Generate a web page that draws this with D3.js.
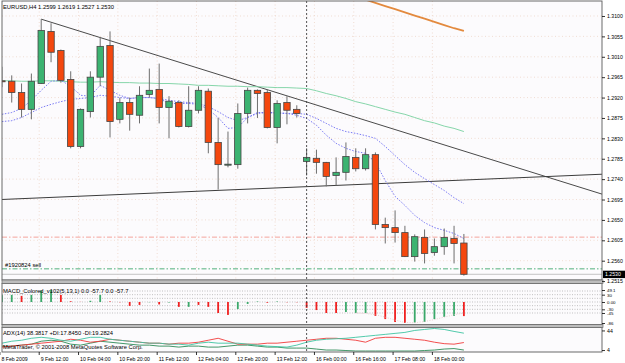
<!DOCTYPE html>
<html>
<head>
<meta charset="utf-8">
<script src="https://cdn.jsdelivr.net/npm/d3@7"></script>
<style>
  body { margin: 0; background: #fff; }
  svg text { font-family: "Liberation Sans", Arial, sans-serif; }
  .axisR text, .axisB text { font-size: 5.2px; fill: #000; }
  .axisR line, .axisB line { stroke: #000; stroke-width: 0.8; }
  .axisM text { font-size: 4.4px; fill: #000; }
  .axisM line { stroke: #000; stroke-width: 0.8; }
  .lbl { font-size: 5.8px; fill: #000; }
</style>
</head>
<body>
<div id="chart"></div>
<script>
// bar open times (H4), first one is partly cut at the left edge
var barTimes = ["8 Feb 20:00","9 Feb 00:00","9 Feb 04:00","9 Feb 08:00","9 Feb 12:00","9 Feb 16:00","9 Feb 20:00",
  "10 Feb 00:00","10 Feb 04:00","10 Feb 08:00","10 Feb 12:00","10 Feb 16:00","10 Feb 20:00",
  "11 Feb 00:00","11 Feb 04:00","11 Feb 08:00","11 Feb 12:00","11 Feb 16:00","11 Feb 20:00",
  "12 Feb 00:00","12 Feb 04:00","12 Feb 08:00","12 Feb 12:00","12 Feb 16:00","12 Feb 20:00",
  "13 Feb 00:00","13 Feb 04:00","13 Feb 08:00","13 Feb 12:00","13 Feb 16:00","13 Feb 20:00",
  "15 Feb 20:00","16 Feb 00:00","16 Feb 04:00","16 Feb 08:00","16 Feb 12:00","16 Feb 16:00","16 Feb 20:00",
  "17 Feb 00:00","17 Feb 04:00","17 Feb 08:00","17 Feb 12:00","17 Feb 16:00","17 Feb 20:00",
  "18 Feb 00:00","18 Feb 04:00","18 Feb 08:00","18 Feb 12:00"];

var openP  = [1.2957,1.2956,1.2931,1.2894,1.2951,1.3066,1.3024,1.2960,1.2812,1.2889,1.2965,1.3035,1.2872,1.2909,1.2881,1.2927,
  1.2938,1.2898,1.2909,1.2856,1.2892,1.2934,1.2821,1.2771,1.2772,1.2885,1.2936,1.2931,1.2854,1.2909,1.2894,1.2779,
  1.2786,1.2777,1.2748,1.2755,1.2788,1.2763,1.2794,1.2640,1.2633,1.2622,1.2569,1.2611,1.2578,1.2591,1.2609,1.2599];
var highP  = [1.2988,1.2969,1.2951,1.2973,1.3093,1.3084,1.3026,1.2978,1.2896,1.2978,1.3053,1.3066,1.2920,1.2920,1.2945,1.2984,
  1.2995,1.2923,1.2914,1.2945,1.2945,1.2940,1.2875,1.2845,1.2907,1.2942,1.2938,1.2938,1.2914,1.2923,1.2903,1.2808,
  1.2805,1.2778,1.2788,1.2821,1.2808,1.2808,1.2799,1.2655,1.2671,1.2637,1.2618,1.2629,1.2609,1.2631,1.2637,1.2619];
var lowP   = [1.2943,1.2909,1.2876,1.2872,1.2950,1.2998,1.2953,1.2808,1.2808,1.2876,1.2945,1.2832,1.2863,1.2847,1.2863,1.2920,
  1.2863,1.2830,1.2854,1.2854,1.2885,1.2797,1.2717,1.2766,1.2763,1.2863,1.2875,1.2852,1.2819,1.2861,1.2876,1.2748,
  1.2752,1.2724,1.2726,1.2737,1.2757,1.2759,1.2629,1.2598,1.2600,1.2568,1.2558,1.2554,1.2571,1.2573,1.2554,1.2527];
var closeP = [1.2956,1.2931,1.2894,1.2956,1.3068,1.3020,1.2958,1.2812,1.2894,1.2965,1.3033,1.2867,1.2909,1.2883,1.2925,1.2936,
  1.2898,1.2912,1.2856,1.2892,1.2936,1.2821,1.2772,1.2773,1.2885,1.2936,1.2929,1.2854,1.2907,1.2892,1.2885,1.2788,
  1.2777,1.2746,1.2755,1.2790,1.2763,1.2794,1.2640,1.2633,1.2622,1.2569,1.2613,1.2576,1.2591,1.2611,1.2598,1.2530];

var maLong = [1.2957,1.2957,1.2956,1.2956,1.2957,1.2957,1.2956,1.2955,1.2954,1.2954,1.2955,1.2954,1.2953,1.2953,1.2952,1.2952,
  1.2951,1.2951,1.2950,1.2949,1.2947,1.2947,1.2946,1.2945,1.2945,1.2944,1.2944,1.2943,1.2942,1.2942,1.2941,1.2940,
  1.2935,1.2929,1.2924,1.2918,1.2911,1.2906,1.2900,1.2894,1.2888,1.2883,1.2876,1.2869,1.2864,1.2857,1.2852,1.2845];
var maFast = [1.2883,1.2887,1.2896,1.2914,1.2936,1.2956,1.2958,1.2945,1.2925,1.2923,1.2947,1.2936,1.2925,1.2918,1.2920,1.2920,
  1.2918,1.2907,1.2907,1.2907,1.2905,1.2894,1.2876,1.2852,1.2854,1.2876,1.2887,1.2887,1.2885,1.2885,1.2881,1.2874,
  1.2859,1.2837,1.2819,1.2808,1.2801,1.2797,1.2777,1.2737,1.2702,1.2682,1.2660,1.2644,1.2633,1.2627,1.2620,1.2609];
var maSlow = [1.2867,1.2869,1.2876,1.2887,1.2898,1.2905,1.2911,1.2916,1.2918,1.2920,1.2925,1.2923,1.2920,1.2918,1.2920,1.2920,
  1.2918,1.2914,1.2911,1.2909,1.2907,1.2900,1.2889,1.2876,1.2869,1.2876,1.2885,1.2887,1.2887,1.2885,1.2885,1.2883,
  1.2874,1.2863,1.2852,1.2845,1.2841,1.2836,1.2830,1.2812,1.2792,1.2772,1.2755,1.2741,1.2728,1.2715,1.2699,1.2686];

// orange line at the top right, from 16 Feb 16:00 to the last bar
var orangeStart = "16 Feb 16:00";
var orangeVals = [1.3142,1.3136,1.3129,1.3122,1.3115,1.3108,1.3101,1.3094,1.3087,1.3080,1.3073,1.3067];

// trend lines: [time, price] anchors
var trendDown = [["9 Feb 12:00", 1.3093], ["18 Feb 12:00", 1.2802]];
var trendUp = [["9 Feb 00:00", 1.2696], ["18 Feb 12:00", 1.2738]];
var stopPrice = 1.2612, orderPrice = 1.2542, bidPrice = 1.2530;
var weekSep = "15 Feb 20:00";

var priceTicks = [1.3100,1.3055,1.3010,1.2965,1.2920,1.2875,1.2830,1.2785,1.2740,1.2695,1.2650,1.2605,1.2560,1.2515];
var timeTicks = ["8 Feb 20:00","9 Feb 12:00","10 Feb 04:00","10 Feb 20:00","11 Feb 12:00","12 Feb 04:00",
  "12 Feb 20:00","13 Feb 12:00","16 Feb 00:00","16 Feb 16:00","17 Feb 08:00","18 Feb 00:00"];
var timeLabels = ["8 Feb 2009","9 Feb 12:00","10 Feb 04:00","10 Feb 20:00","11 Feb 12:00","12 Feb 04:00",
  "12 Feb 20:00","13 Feb 12:00","16 Feb 00:00","16 Feb 16:00","17 Feb 08:00","18 Feb 00:00"];

var macdHist = [28,29,25,29,47,49.1,29,3,0.5,5,29,2,-1,-16,-12,-1,-10,-2,-20,-20,-12,-20,-45,-53,-29,-8,2,-3,2,-1,-1,-24,
  -33,-45,-45,-41,-45,-45,-57,-70,-82,-86,-84,-82,-70,-61,-57,-57.7];
var macdRising = [1,1,0,1,1,1,0,0,0,1,1,0,0,0,0,1,0,1,0,1,0,0,0,0,1,1,1,0,1,0,0,0,0,0,0,1,1,1,0,0,0,0,1,1,1,1,1,0];
var macdSigStart = "16 Feb 16:00";
var macdSigVals = [-45,-47,-52,-62,-74,-84,-85,-80,-72,-62,-52,-45];
var macdLevels = [45,30,15,0,-15,-30,-45];
var macdTicks = [49.1,30,0,-30,-45,-86];
var macdTickText = ["49.1","30","0.00","-30","-45","-86"];

var adxLine = [18,22,24,28,30,28,24,22,26,30,30,26,24,22,20,18,18,16,16,14,18,20,18,18,18,16,14,12,11,10,14,20,
  24,26,27,28,30,32,34,36,38,40,44,46,48,46,42,38.4];
var minusDi = [10,12,14,16,18,20,22,26,24,20,22,26,24,22,20,18,18,16,18,18,20,24,28,22,16,16,16,18,18,20,22,24,
  26,28,28,26,24,20,28,30,30,28,26,24,20,17,16,19.3];
var plusDi = [12,12,14,16,22,24,22,16,14,18,22,20,18,16,14,14,12,12,10,12,12,10,10,12,14,14,12,10,10,8,8,8,
  6,4,4,3,2,2,2,2,2,2,2,3,4,6,7,4];
var adxTicks = [44,4];

drawTerminalChart("chart");

function drawTerminalChart(divIdStr){
  var plotL = 2, plotR = 602;
  var mainT = 1, mainB = 280;
  var macdT = 283.5, macdB = 324.5;
  var adxT = 327.5, adxB = 352;

  var x = d3.scaleLinear().domain([0, 61]).range([1.9, 601.5]);
  var y = d3.scaleLinear().domain([1.25174, 1.31331]).range([mainB, mainT]);
  var yM = d3.scaleLinear().domain([-86, 49.1]).range([323, 290]);
  var yA = d3.scaleLinear().domain([0, 50]).range([adxB, adxT]);
  var pos = function(t){ return barTimes.indexOf(t); };

  var svg = d3.select("#" + divIdStr).append("svg")
    .attr("width", 625).attr("height", 363);
  svg.append("rect").attr("width", 625).attr("height", 363).attr("fill", "#fff");

  var defs = svg.append("defs");
  [["clipMain", mainT, mainB], ["clipMacd", macdT, macdB], ["clipAdx", adxT, adxB]].forEach(function(c){
    defs.append("clipPath").attr("id", c[0]).append("rect")
      .attr("x", plotL).attr("y", c[1]).attr("width", plotR - plotL).attr("height", c[2] - c[1]);
  });

  // panel backgrounds
  [[mainT, mainB], [macdT, macdB], [adxT, adxB]].forEach(function(p){
    svg.append("rect").attr("x", plotL).attr("y", p[0]).attr("width", plotR - plotL).attr("height", p[1] - p[0])
      .attr("fill", "#fcfbfd");
  });

  // ---- main panel ----
  var main = svg.append("g").attr("clip-path", "url(#clipMain)");

  main.append("g").selectAll("line").data(priceTicks).enter().append("line")
    .attr("x1", plotL).attr("x2", plotR)
    .attr("y1", function(d){ return y(d); }).attr("y2", function(d){ return y(d); })
    .attr("stroke", "#eed6c8").attr("stroke-width", 0.8).attr("stroke-dasharray", "1,2.5");
  main.append("g").selectAll("line").data(timeTicks).enter().append("line")
    .attr("x1", function(d){ return x(pos(d)) - 2; }).attr("x2", function(d){ return x(pos(d)) - 2; })
    .attr("y1", mainT).attr("y2", mainB)
    .attr("stroke", "#eed6c8").attr("stroke-width", 0.8).attr("stroke-dasharray", "1,2.5");

  // order lines
  main.append("line").attr("x1", plotL).attr("x2", plotR).attr("y1", y(stopPrice)).attr("y2", y(stopPrice))
    .attr("stroke", "#f4a49c").attr("stroke-width", 1).attr("stroke-dasharray", "5,2,1.5,2");
  main.append("line").attr("x1", plotL).attr("x2", plotR).attr("y1", y(orderPrice)).attr("y2", y(orderPrice))
    .attr("stroke", "#52b07c").attr("stroke-width", 1).attr("stroke-dasharray", "5,2,1.5,2");
  main.append("line").attr("x1", plotL).attr("x2", plotR).attr("y1", y(bidPrice)).attr("y2", y(bidPrice))
    .attr("stroke", "#c4c4c4").attr("stroke-width", 1);

  // trend lines
  var dx = x(pos(trendDown[1][0])) - x(pos(trendDown[0][0]));
  var slopeD = (y(trendDown[1][1]) - y(trendDown[0][1])) / dx;
  main.append("line")
    .attr("x1", x(pos(trendDown[0][0]))).attr("y1", y(trendDown[0][1]))
    .attr("x2", plotR).attr("y2", y(trendDown[0][1]) + slopeD * (plotR - x(pos(trendDown[0][0]))))
    .attr("stroke", "#4a4a4a").attr("stroke-width", 1);
  var ux0 = x(pos(trendUp[0][0])), uy0 = y(trendUp[0][1]);
  var slopeU = (y(trendUp[1][1]) - uy0) / (x(pos(trendUp[1][0])) - ux0);
  main.append("line")
    .attr("x1", plotL).attr("y1", uy0 + slopeU * (plotL - ux0))
    .attr("x2", plotR).attr("y2", uy0 + slopeU * (plotR - ux0))
    .attr("stroke", "#3c3c3c").attr("stroke-width", 1);

  var lineOf = function(arr, offset, scale){
    return d3.line().defined(function(d){ return d != null; })
      .x(function(d, i){ return x(i + offset); })
      .y(function(d){ return scale(d); })(arr);
  };

  main.append("path").attr("d", lineOf(maLong, 0, y)).attr("fill", "none")
    .attr("stroke", "#86d6aa").attr("stroke-width", 1);
  main.append("path").attr("d", lineOf(maSlow, 0, y)).attr("fill", "none")
    .attr("stroke", "#6c6cf2").attr("stroke-width", 0.9).attr("stroke-dasharray", "1.5,1.5");
  main.append("path").attr("d", lineOf(maFast, 0, y)).attr("fill", "none")
    .attr("stroke", "#6c6cf2").attr("stroke-width", 0.9).attr("stroke-dasharray", "1.5,1.5");
  main.append("path").attr("d", lineOf(orangeVals, pos(orangeStart), y)).attr("fill", "none")
    .attr("stroke", "#e38a3e").attr("stroke-width", 1.8);

  // candles
  var candles = main.append("g").selectAll("g").data(barTimes).enter().append("g");
  candles.append("line")
    .attr("x1", function(d, i){ return x(i); }).attr("x2", function(d, i){ return x(i); })
    .attr("y1", function(d, i){ return y(highP[i]); }).attr("y2", function(d, i){ return y(lowP[i]); })
    .attr("stroke", "#6e6e6e").attr("stroke-width", 1);
  candles.append("rect")
    .attr("x", function(d, i){ return x(i) - 3.2; })
    .attr("width", 6.4)
    .attr("y", function(d, i){ return y(Math.max(openP[i], closeP[i])); })
    .attr("height", function(d, i){ return Math.max(1, Math.abs(y(openP[i]) - y(closeP[i]))); })
    .attr("fill", function(d, i){ return closeP[i] >= openP[i] ? "#3cb371" : "#f4470e"; })
    .attr("stroke", "#454545").attr("stroke-width", 0.8);

  svg.append("text").attr("class", "lbl").attr("x", 3).attr("y", 8.5)
    .text("EURUSD,H4  1.2599 1.2619 1.2527 1.2530");
  svg.append("text").attr("class", "lbl").attr("x", 5).attr("y", 266.5).attr("fill", "#222")
    .text("#1920824 sell");

  // ---- MACD panel ----
  var macd = svg.append("g").attr("clip-path", "url(#clipMacd)");
  macd.append("g").selectAll("line").data(macdLevels).enter().append("line")
    .attr("x1", plotL).attr("x2", plotR)
    .attr("y1", function(d){ return yM(d); }).attr("y2", function(d){ return yM(d); })
    .attr("stroke", "#a8a8a8").attr("stroke-width", 0.7).attr("stroke-dasharray", "1,1.5");
  svg.append("text").attr("class", "lbl").attr("x", 3).attr("y", 293)
    .text("MACD_Colored_v102(5,13,1) 0.0 -57.7 0.0 -57.7");
  macd.append("g").selectAll("rect").data(macdHist).enter().append("rect")
    .attr("x", function(d, i){ return x(i) - 0.9; })
    .attr("width", 1.8)
    .attr("y", function(d){ return Math.min(yM(0), yM(d)); })
    .attr("height", function(d){ return Math.abs(yM(d) - yM(0)); })
    .attr("fill", function(d, i){ return macdRising[i] ? "#3aa86a" : "#f02020"; });
  macd.append("path").attr("d", lineOf(macdSigVals, pos(macdSigStart), yM)).attr("fill", "none")
    .attr("stroke", "#e6c4c4").attr("stroke-width", 0.8).attr("stroke-dasharray", "1,1.5");

  // ---- ADX panel ----
  var adx = svg.append("g").attr("clip-path", "url(#clipAdx)");
  adx.append("path").attr("d", lineOf(plusDi, 0, yA)).attr("fill", "none")
    .attr("stroke", "#2e8b57").attr("stroke-width", 0.9);
  adx.append("path").attr("d", lineOf(minusDi, 0, yA)).attr("fill", "none")
    .attr("stroke", "#f03a3a").attr("stroke-width", 0.9);
  adx.append("path").attr("d", lineOf(adxLine, 0, yA)).attr("fill", "none")
    .attr("stroke", "#3ec4a2").attr("stroke-width", 0.9);
  svg.append("text").attr("class", "lbl").attr("x", 3).attr("y", 334.5)
    .text("ADX(14) 38.3817 +DI:17.8450 -DI:19.2824");
  svg.append("text").attr("class", "lbl").attr("x", 3).attr("y", 349)
    .text("MetaTrader, \u00a9 2001-2008 MetaQuotes Software Corp.");

  // week separator through all panels
  svg.append("line").attr("x1", x(pos(weekSep))).attr("x2", x(pos(weekSep)))
    .attr("y1", mainT).attr("y2", adxB)
    .attr("stroke", "#404040").attr("stroke-width", 0.9).attr("stroke-dasharray", "2,2");

  // frames and separators
  [[mainT, mainB], [macdT, macdB], [adxT, adxB]].forEach(function(p){
    svg.append("rect").attr("x", plotL).attr("y", p[0]).attr("width", plotR - plotL).attr("height", p[1] - p[0])
      .attr("fill", "none").attr("stroke", "#5a5a5a").attr("stroke-width", 0.9);
  });
  [[mainB, macdT], [macdB, adxT]].forEach(function(p){
    svg.append("rect").attr("x", plotL).attr("y", p[0]).attr("width", plotR - plotL + 1).attr("height", p[1] - p[0])
      .attr("fill", "#bdbdbd").attr("stroke", "#6a6a6a").attr("stroke-width", 0.7);
  });

  // axes
  var pAxis = svg.append("g").attr("class", "axisR").attr("transform", "translate(" + plotR + ",0)")
    .call(d3.axisRight(y).tickValues(priceTicks).tickSize(3).tickPadding(2).tickFormat(d3.format(".4f")));
  pAxis.select(".domain").remove();

  var mAxis = svg.append("g").attr("class", "axisM").attr("transform", "translate(" + plotR + ",0)")
    .call(d3.axisRight(yM).tickValues(macdTicks).tickSize(3).tickPadding(2)
      .tickFormat(function(d, i){ return macdTickText[i]; }));
  mAxis.select(".domain").remove();

  var aAxis = svg.append("g").attr("class", "axisR").attr("transform", "translate(" + plotR + ",0)")
    .call(d3.axisRight(yA).tickValues(adxTicks).tickSize(3).tickPadding(2));
  aAxis.select(".domain").remove();

  var tAxis = svg.append("g").attr("class", "axisB").attr("transform", "translate(0," + adxB + ")")
    .call(d3.axisBottom(x).tickValues(timeTicks.map(pos)).tickSize(3)
      .tickFormat(function(d, i){ return timeLabels[i]; }));
  tAxis.select(".domain").remove();
  tAxis.selectAll(".tick line").attr("transform", "translate(-2.5,0)");
  tAxis.selectAll(".tick text").attr("text-anchor", "start").attr("x", -1).attr("y", 5.3);

  // current price box
  svg.append("rect").attr("x", plotR + 1).attr("y", y(bidPrice) - 3.6).attr("width", 22).attr("height", 7.4)
    .attr("fill", "#000");
  svg.append("text").attr("x", plotR + 3).attr("y", y(bidPrice) + 1.8)
    .attr("font-size", "5.2px").attr("fill", "#fff").text(d3.format(".4f")(bidPrice));
}
</script>
</body>
</html>
